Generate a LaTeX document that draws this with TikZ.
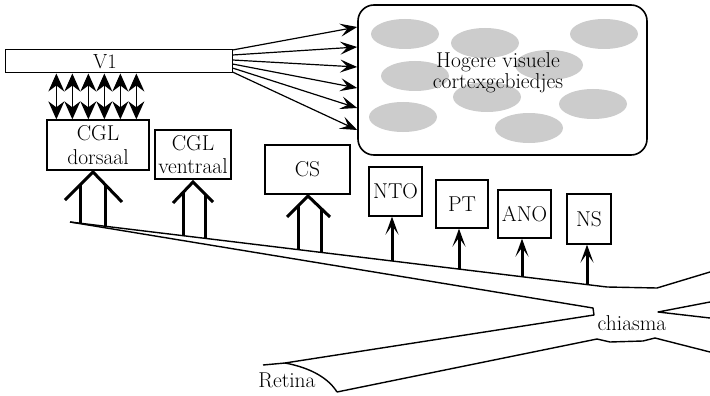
\documentclass[tikz,border=0pt]{standalone}
\usepackage{fontspec}
\usetikzlibrary{arrows.meta,calc}
\tikzset{
  box/.style={draw,line width=1.3pt,rectangle,inner sep=0pt,align=center,
    font=\fontsize{21.5}{23.5}\selectfont},
  lbl/.style={inner sep=0pt,align=center,font=\fontsize{21.5}{21}\selectfont},
  blob/.style={fill=black!20,draw=none},
  tract/.style={line width=1.4pt,line join=round},
  fanarrow/.style={line width=1.2pt,-{Stealth[length=17pt,width=13pt,inset=7pt]}},
  bidir/.style={line width=1.2pt,
    {Stealth[length=18pt,width=16pt,inset=6pt]}-{Stealth[length=18pt,width=16pt,inset=6pt]}},
  feed/.style={line width=3pt,-{Stealth[length=18pt,width=13pt,inset=9pt]}},
  broad/.style={line width=3pt,line join=miter,line cap=butt}
}
\begin{document}
\begin{tikzpicture}[x=1pt,y=-1pt]
\useasboundingbox (0,0) rectangle (710,396);

% primary visual cortex
\node[box,line width=1pt,minimum width=227pt,minimum height=23pt] (v1) at (118.5,61.5) {};
\node[lbl,font=\fontsize{20.5}{22}\selectfont] (v1text) at (105,62) {V1};

% higher visual areas
\node[draw,line width=1.6pt,rounded corners=16pt,inner sep=0pt,
      minimum width=289pt,minimum height=150pt] (hv) at (502.5,80) {};
\foreach \cx/\cy in {405/34,485/43,604/34,415/76,549/65,487/97,593/104,403/117,529/128}
  \fill[blob] (\cx,\cy) ellipse [x radius=34pt,y radius=15pt];
\node[lbl] (hvtext) at (498,72.5) {Hogere visuele\\cortexgebiedjes};

% subcortical targets
\node[box,minimum width=102pt,minimum height=50pt] (dorsal) at (98,145) {CGL\\dorsaal};
\node[box,minimum width=76pt,minimum height=49pt] (ventral) at (193,154.5) {CGL\\ventraal};
\node[box,minimum width=85pt,minimum height=49pt] (cs) at (307.5,169.5) {CS};
\node[box,minimum width=53pt,minimum height=49pt] (nto) at (395.5,191.5) {NTO};
\node[box,minimum width=52pt,minimum height=48pt] (pt) at (462,204) {PT};
\node[box,minimum width=53pt,minimum height=48pt] (ano) at (524.5,214) {ANO};
\node[box,minimum width=44pt,minimum height=50pt] (ns) at (589,219) {NS};

% V1 to higher areas
\foreach \s/\t in {11.5/53,6.5/33,1.5/13,-2.5/-8,-6.5/-28,-10.5/-50}
  \draw[fanarrow] ([yshift=\s pt]v1.east) -- ([yshift=\t pt]hv.west);

% reciprocal connections between CGL dorsaal and V1
\foreach \dx [count=\i] in {10,26,42,58,74,90} {
  \path (dorsal.north west) ++(\dx,0) coordinate (b\i);
  \draw[bidir] (b\i) -- (b\i |- v1.south);
}

% optic tract, chiasm, optic nerve
\draw[tract] (70,222) -- (607,287) -- (657,288) -- (710,272);
\draw[tract] (70,222) -- (593,308) -- (594,315) -- (285,363) -- (263,365);
\draw[tract] (285,363) .. controls (312,368) and (329,379) .. (337,392);
\draw[tract] (337,392) -- (597,339) -- (610,342) -- (643,341) -- (655,338) -- (710,352);
\draw[tract] (710,302) -- (658,312) -- (710,318);

\node[lbl] (chiasma) at (632,323) {chiasma};
\node[lbl] (retina) at (287,380) {Retina};

% broad projections
\draw[broad] (65,200) -- (93,172) -- (122,202);
\draw[broad] (80,223.2) -- (80,185);
\draw[broad] (105,226.2) -- (105,184.4);
\draw[broad] (173,203) -- (193,182) -- (213,202);
\draw[broad] (183,235.7) -- (183,192.5);
\draw[broad] (205,238.3) -- (205,194);
\draw[broad] (287,217) -- (308,196) -- (330,217);
\draw[broad] (298,249.6) -- (298,206);
\draw[broad] (321,252.4) -- (321,208.4);

% single projections
\coordinate (fnto) at (392,261);
\coordinate (fpt) at (459,269.1);
\coordinate (fano) at (522,276.7);
\coordinate (fns) at (587,284.6);
\draw[feed] (fnto) -- (fnto |- nto.south);
\draw[feed] (fpt) -- (fpt |- pt.south);
\draw[feed] (fano) -- (fano |- ano.south);
\draw[feed] (fns) -- (fns |- ns.south);
\end{tikzpicture}
\end{document}
